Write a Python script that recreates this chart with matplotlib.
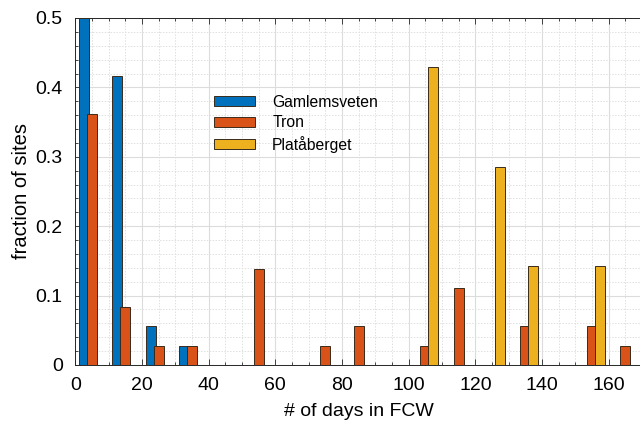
import numpy as np
import matplotlib
matplotlib.use("Agg")
import matplotlib.pyplot as plt
from matplotlib.ticker import MultipleLocator

plt.rcParams["font.family"] = ["Liberation Sans", "DejaVu Sans"]

# bin centres (days) and fraction of sites per bin
bin_centres = [5, 15, 25, 35, 45, 55, 65, 75, 85, 95, 105, 115, 125, 135, 145, 155, 165]
gamlemsveten = [0.5, 0.417, 0.056, 0.028, 0, 0, 0, 0, 0, 0, 0, 0, 0, 0, 0, 0, 0]
tron = [0.361, 0.083, 0.028, 0.028, 0, 0.139, 0, 0.028, 0.056, 0, 0.028, 0.111, 0, 0.056, 0, 0.056, 0.028]
plataberget = [0, 0, 0, 0, 0, 0, 0, 0, 0, 0, 0.429, 0, 0.286, 0.143, 0, 0.143, 0]

series_names = ["Gamlemsveten", "Tron", "Platåberget"]
series_colors = ["#0072BD", "#D95319", "#EDB120"]
x_ticks = [0, 20, 40, 60, 80, 100, 120, 140, 160]
y_ticks = [0, 0.1, 0.2, 0.3, 0.4, 0.5]
y_tick_labels = ["0", "0.1", "0.2", "0.3", "0.4", "0.5"]

fig = plt.figure(figsize=(6.4, 4.26), dpi=100)
ax = fig.add_axes([0.1177, 0.1432, 0.8854, 0.8146])

x = np.array(bin_centres, dtype=float)
offsets = [-2.35, 0.0, 2.3]
bar_w = 3.0
handles = []
for vals, off, col, name in zip([gamlemsveten, tron, plataberget], offsets, series_colors, series_names):
    v = np.array(vals)
    keep = v > 0
    h = ax.bar(x[keep] + off, v[keep], width=bar_w, color=col, edgecolor="#3a2a1a",
               linewidth=0.7, label=name, zorder=3)
    handles.append(h)

ax.set_xlim(0, 170)
ax.set_ylim(0, 0.5)
ax.set_xticks(x_ticks)
ax.set_xticklabels([str(t) for t in x_ticks])
ax.set_yticks(y_ticks)
ax.set_yticklabels(y_tick_labels)
ax.xaxis.set_minor_locator(MultipleLocator(5))
ax.yaxis.set_minor_locator(MultipleLocator(0.02))

ax.grid(True, which="major", color="#dcdcdc", linewidth=0.8, linestyle="-", zorder=0)
ax.grid(True, which="minor", color="#e0e0e0", linewidth=0.7, linestyle=(0, (1.5, 1.5)), zorder=0)
ax.set_axisbelow(True)

ax.tick_params(which="both", direction="in", top=True, right=False, colors="#262626",
               labelcolor="black", width=0.6)
ax.tick_params(which="major", length=4, labelsize=14, pad=9)
ax.tick_params(which="minor", length=2)
for side in ["left", "bottom", "top"]:
    ax.spines[side].set_color("#262626")
    ax.spines[side].set_linewidth(0.7)
ax.spines["right"].set_visible(False)

ax.set_xlabel("# of days in FCW", fontsize=14, labelpad=6)
ax.set_ylabel("fraction of sites", fontsize=14.5, labelpad=3)

ax.legend(handles=handles, loc="upper left", bbox_to_anchor=(0.22, 0.82), frameon=False,
          fontsize=11.3, handlelength=2.6, handleheight=0.6, handletextpad=1.1,
          labelspacing=0.35)

fig.savefig("out.png", dpi=100)
